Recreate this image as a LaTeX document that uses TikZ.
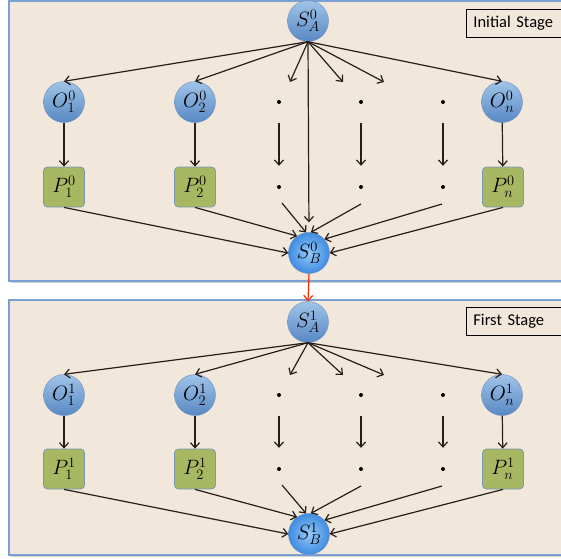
\documentclass[tikz,border=0pt]{standalone}
\usepackage{fontspec}
\newfontfamily\stagefont{Carlito}
\usetikzlibrary{arrows.meta}
\definecolor{panelFill}{RGB}{242,231,219}
\definecolor{panelLine}{RGB}{122,160,212}
\definecolor{ballTop}{RGB}{160,196,232}
\definecolor{ballBot}{RGB}{88,136,196}
\definecolor{ballLine}{RGB}{104,142,192}
\definecolor{sbInner}{RGB}{150,200,248}
\definecolor{sbOuter}{RGB}{62,140,226}
\definecolor{boxFill}{RGB}{168,184,98}
\definecolor{boxLine}{RGB}{122,152,182}
\definecolor{arrowCol}{RGB}{40,30,22}
\definecolor{linkRed}{RGB}{255,42,0}
\tikzset{
    panel/.style={fill=panelFill, draw=panelLine, line width=1.4pt},
    panel shadow/.style={fill=black!18},
    math font/.style={font=\fontsize{20}{22}\selectfont},
    onode/.style={circle, minimum size=41pt, inner sep=0pt, draw=ballLine, thin,
        top color=ballTop, bottom color=ballBot, math font},
    bnode/.style={circle, minimum size=41pt, inner sep=0pt, draw=ballLine, thin,
        inner color=sbInner, outer color=sbOuter, math font},
    pbox/.style={rectangle, rounded corners=4pt, minimum width=41pt, minimum height=40pt,
        inner sep=0pt, fill=boxFill, draw=boxLine, thick, math font},
    dotnode/.style={circle, fill=black, minimum size=4pt, inner sep=0pt},
    stagebox/.style={draw=black, line width=0.8pt, anchor=west, minimum height=28pt,
        text width=110pt, inner xsep=7pt, align=left,
        font=\stagefont\fontsize{16.5}{18}\selectfont},
    flow/.style={draw=arrowCol, line width=1.2pt, ->},
    red flow/.style={draw=linkRed, line width=1.2pt, ->}
}

\begin{document}
\begin{tikzpicture}[x=1pt, y=-1pt, >={Straight Barb[length=5pt, width=9pt]}]
    \useasboundingbox (0,0) rectangle (561,558);
    \clip (0,0) rectangle (561,558);

    % Stage panels
    \foreach \ytop/\ybot in {1/281, 300/555} {
        \fill[panel shadow] (11,\ytop+2) rectangle (580,\ybot+2);
        \draw[panel] (9,\ytop) rectangle (575,\ybot);
    }

    % One stage per panel
    \foreach \s/\ya/\yo/\yp/\yb/\yl/\stage in {0/21/102/187/253/23/Initial Stage,
                                               1/322/395/469/534/321/First Stage} {
        \node[stagebox] (stage\s) at (466,\yl) {\stage};

        \node[onode] (SA\s) at (308,\ya) {$S_A^{\s}$};
        \node[onode] (O1\s) at (64,\yo) {$O_1^{\s}$};
        \node[onode] (O2\s) at (195,\yo) {$O_2^{\s}$};
        \node[onode] (On\s) at (502,\yo) {$O_n^{\s}$};
        \node[pbox] (P1\s) at (64,\yp) {$P_1^{\s}$};
        \node[pbox] (P2\s) at (195,\yp) {$P_2^{\s}$};
        \node[pbox] (Pn\s) at (503,\yp) {$P_n^{\s}$};
        \node[bnode] (SB\s) at (309,\yb) {$S_B^{\s}$};

        % Dotted columns
        \foreach \d/\x in {1/279, 2/361, 3/443} {
            \node[dotnode] (Od\d\s) at (\x,\yo) {};
            \node[dotnode] (Pd\d\s) at (\x,\yp) {};
            \draw[flow, shorten <=19pt, shorten >=19pt] (Od\d\s) -- (Pd\d\s);
        }

        % Free ends of the short arrows
        \coordinate (t1\s) at (290,\yo-20);
        \coordinate (t2\s) at (343,\yo-20);
        \coordinate (t3\s) at (384,\yo-20);
        \coordinate (b1\s) at (282,\yp+16);
        \coordinate (b2\s) at (361,\yp+17);
        \coordinate (b3\s) at (442,\yp+17);

        % Fan out
        \draw[flow] (SA\s.south) -- (O1\s.north);
        \draw[flow] (SA\s.south) -- (O2\s.north);
        \draw[flow] (SA\s.south) -- (t1\s);
        \draw[flow] (SA\s.south) -- (t2\s);
        \draw[flow] (SA\s.south) -- (t3\s);
        \draw[flow] (SA\s.south) -- (On\s.north);

        % Down the columns
        \draw[flow] (O1\s) -- (P1\s);
        \draw[flow] (O2\s) -- (P2\s);
        \draw[flow] (On\s) -- (Pn\s);

        % Fan in
        \draw[flow] (P1\s.south) -- (SB\s.west);
        \draw[flow] (P2\s.south) -- (SB\s.125);
        \draw[flow] (b1\s) -- (SB\s.98);
        \draw[flow] (b2\s) -- (SB\s.85);
        \draw[flow] (b3\s) -- (SB\s.42);
        \draw[flow] (Pn\s.south) -- (SB\s.east);
    }

    % Direct path in the initial stage
    \draw[flow, shorten >=10pt] (SA0.south) -- (SB0.north);

    % Link between stages
    \draw[red flow] (SB0.south) -- (SA1.north);

\end{tikzpicture}
\end{document}
